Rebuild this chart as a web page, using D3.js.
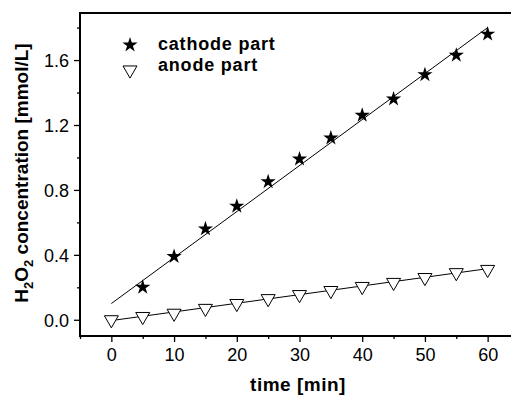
<!DOCTYPE html>
<html>
<head>
<meta charset="utf-8">
<script src="https://cdn.jsdelivr.net/npm/d3@7"></script>
<style>
  body { margin: 0; background: #fff; }
  svg { display: block; font-family: Arial, "Liberation Sans", sans-serif; }
</style>
</head>
<body>
<svg id="chart" width="511" height="398"></svg>
<script>
// data
var times = [5, 10, 15, 20, 25, 30, 35, 40, 45, 50, 55, 60];
var cathode = [0.20, 0.39, 0.56, 0.70, 0.85, 0.99, 1.12, 1.26, 1.36, 1.51, 1.63, 1.76];
var anodeTimes = [0, 5, 10, 15, 20, 25, 30, 35, 40, 45, 50, 55, 60];
var anode = [0.0, 0.02, 0.04, 0.07, 0.10, 0.13, 0.155, 0.18, 0.205, 0.23, 0.26, 0.29, 0.31];
// linear fit end points
var cathodeFit = [[0, 0.10], [60, 1.80]];
var anodeFit = [[0, -0.005], [60, 0.315]];
var xTicks = [0, 10, 20, 30, 40, 50, 60];
var xMinor = [-5, 5, 15, 25, 35, 45, 55, 65];
var yTicks = [0.0, 0.4, 0.8, 1.2, 1.6];
var yMinor = [0.2, 0.6, 1.0, 1.4, 1.8];

var svg = d3.select("#chart");
var plotLeft = 80, plotTop = 13, plotBottom = 336;

var x = d3.scaleLinear().domain([-5, 65]).range([plotLeft, 519]);
var y = d3.scaleLinear().domain([-0.1, 1.89]).range([plotBottom, plotTop]);

// frame
svg.append("rect")
    .attr("x", plotLeft).attr("y", plotTop)
    .attr("width", x(65) - plotLeft).attr("height", plotBottom - plotTop)
    .attr("fill", "none").attr("stroke", "#000").attr("stroke-width", 2);

// x axis
var xAxis = svg.append("g").attr("transform", "translate(0," + plotBottom + ")")
    .call(d3.axisBottom(x).tickValues(xTicks).tickSize(6).tickFormat(d3.format("d")));
svg.append("g").attr("transform", "translate(0," + plotBottom + ")")
    .call(d3.axisBottom(x).tickValues(xMinor).tickSize(3).tickFormat(""));

// y axis
var yAxis = svg.append("g").attr("transform", "translate(" + plotLeft + ",0)")
    .call(d3.axisLeft(y).tickValues(yTicks).tickSize(6).tickFormat(d3.format(".1f")));
svg.append("g").attr("transform", "translate(" + plotLeft + ",0)")
    .call(d3.axisLeft(y).tickValues(yMinor).tickSize(3).tickFormat(""));

svg.selectAll(".domain").remove();
svg.selectAll(".tick line").attr("stroke", "#000").attr("stroke-width", 1.3);
xAxis.selectAll("text").attr("font-size", 18).attr("font-family", "Arial, 'Liberation Sans', sans-serif")
    .attr("fill", "#000").attr("dy", null).attr("y", 25);
yAxis.selectAll("text").attr("font-size", 18).attr("font-family", "Arial, 'Liberation Sans', sans-serif")
    .attr("fill", "#000").attr("x", -11).attr("dy", "0.35em");

// fit lines
var line = d3.line().x(function(d) { return x(d[0]); }).y(function(d) { return y(d[1]); });
[cathodeFit, anodeFit].forEach(function(f) {
  svg.append("path").attr("d", line(f))
      .attr("fill", "none").attr("stroke", "#000").attr("stroke-width", 1);
});

// markers
var star = d3.symbol().type(d3.symbolStar).size(72);
var tri = d3.symbol().type(d3.symbolTriangle).size(85);

svg.append("g").selectAll("path")
  .data(anodeTimes)
  .enter().append("path")
    .attr("d", tri)
    .attr("transform", function(d, i) { return "translate(" + x(d) + "," + y(anode[i]) + ") rotate(180)"; })
    .attr("fill", "#fff").attr("stroke", "#000").attr("stroke-width", 1);

svg.append("g").selectAll("path")
  .data(times)
  .enter().append("path")
    .attr("d", star)
    .attr("transform", function(d, i) { return "translate(" + x(d) + "," + y(cathode[i]) + ")"; })
    .attr("fill", "#000");

// legend
svg.append("path").attr("d", star).attr("transform", "translate(130,45)").attr("fill", "#000");
svg.append("path").attr("d", tri).attr("transform", "translate(130,70) rotate(180)")
    .attr("fill", "#fff").attr("stroke", "#000").attr("stroke-width", 1);
svg.append("text").attr("x", 158).attr("y", 50).attr("font-size", 18).attr("font-weight", "bold")
    .attr("letter-spacing", 0.8).text("cathode part");
svg.append("text").attr("x", 158).attr("y", 71).attr("font-size", 18).attr("font-weight", "bold")
    .attr("letter-spacing", 0.8).text("anode part");

// axis titles
svg.append("text").attr("x", 298).attr("y", 391).attr("text-anchor", "middle")
    .attr("font-size", 19).attr("font-weight", "bold").attr("letter-spacing", 0.5).text("time [min]");

var yl = svg.append("text")
    .attr("transform", "translate(28,173) rotate(-90)")
    .attr("text-anchor", "middle")
    .attr("font-size", 19).attr("font-weight", "bold");
yl.append("tspan").text("H");
yl.append("tspan").attr("font-size", 13).attr("dy", 5).text("2");
yl.append("tspan").attr("dy", -5).text("O");
yl.append("tspan").attr("font-size", 13).attr("dy", 5).text("2");
yl.append("tspan").attr("dy", -5).text(" concentration [mmol/L]");
</script>
</body>
</html>
